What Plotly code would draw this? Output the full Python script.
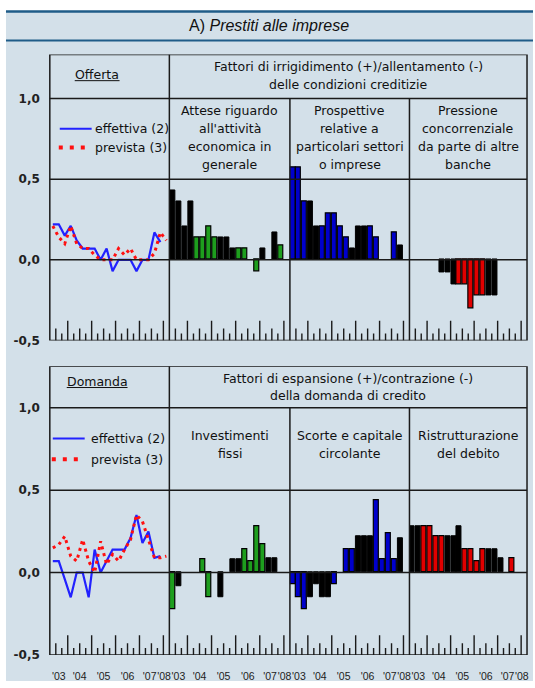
import plotly.graph_objects as go

# ---------------- data ----------------
quarters = ["2003T2", "2003T3", "2003T4",
            "2004T1", "2004T2", "2004T3", "2004T4",
            "2005T1", "2005T2", "2005T3", "2005T4",
            "2006T1", "2006T2", "2006T3", "2006T4",
            "2007T1", "2007T2", "2007T3", "2007T4",
            "2008T1"]
year_labels = ["'03", "'04", "'05", "'06", "'07", "'08"]
y_tick_vals = [-0.5, 0.0, 0.5, 1.0]
y_tick_text = ["-0,5", "0,0", "0,5", "1,0"]

# Offerta (lines)
offerta_effettiva = [0.22, 0.22, 0.15, 0.21, 0.12, 0.07, 0.07, 0.07, 0.0, 0.07,
                     -0.07, 0.0, 0.0, 0.0, -0.07, 0.0, 0.0, 0.17, 0.11, None]
offerta_prevista = [0.21, 0.14, 0.10, 0.21, 0.10, 0.07, 0.07, 0.03, 0.0, 0.0,
                    0.0, 0.07, 0.03, 0.07, 0.0, 0.0, 0.0, 0.04, 0.17, 0.12]

# Offerta factors (black bars / coloured bars)
attese_nere = [0.43, 0.36, 0.21, 0.36, None, None, None, None, 0.14, 0.14,
               0.07, None, None, None, None, 0.07, None, 0.17, None, None]
attese_col = [None, None, None, None, 0.14, 0.14, 0.21, 0.14, None, None,
              None, 0.07, 0.07, None, -0.07, None, None, None, 0.09, None]
prospettive_nere = [None, None, None, 0.36, 0.21, None, None, None, None, None,
                    0.07, 0.21, 0.21, None, None, None, None, None, 0.09, None]
prospettive_col = [0.57, 0.57, 0.36, None, None, 0.21, 0.29, 0.29, 0.21, 0.14,
                   None, None, None, 0.21, 0.14, None, None, 0.17, None, None]
pressione_nere = [None, None, None, None, None, -0.08, -0.08, -0.15, None, None,
                  None, None, None, -0.22, -0.22, None, None, None, None, None]
pressione_col = [None, None, None, None, None, None, None, None, -0.15, -0.15,
                 -0.30, -0.22, -0.22, None, None, None, None, None, None, None]

# Domanda (lines)
domanda_effettiva = [0.07, 0.07, -0.04, -0.15, 0.0, 0.0, -0.15, 0.14, 0.0, 0.07,
                     0.14, 0.14, 0.14, 0.21, 0.35, 0.18, 0.25, 0.09, 0.10, None]
domanda_prevista = [0.15, 0.17, 0.22, 0.10, 0.07, 0.20, 0.07, 0.0, 0.19, 0.05,
                    0.11, 0.07, 0.14, 0.20, 0.35, 0.31, 0.20, 0.09, 0.09, 0.10]

# Domanda factors
investimenti_nere = [None, -0.08, None, None, None, None, None, None, -0.15, None,
                     0.08, 0.08, None, None, None, None, 0.09, 0.09, None, None]
investimenti_col = [-0.22, None, None, None, None, 0.08, -0.15, None, None, None,
                    None, None, 0.14, 0.07, 0.28, 0.17, None, None, None, None]
scorte_nere = [None, None, None, -0.15, -0.07, -0.15, -0.15, None, None, None,
               None, 0.22, 0.22, 0.22, None, None, None, None, 0.21, None]
scorte_col = [-0.07, -0.15, -0.22, None, None, None, None, -0.07, None, 0.14,
              0.14, None, None, None, 0.44, 0.08, 0.24, 0.08, None, None]
ristrutt_nere = [0.28, 0.28, None, None, None, None, 0.22, 0.22, 0.28, None,
                 None, None, None, 0.14, 0.14, 0.09, None, None, None, None]
ristrutt_col = [None, None, 0.28, 0.28, 0.22, 0.22, None, None, None, 0.14,
                0.14, 0.07, 0.14, None, None, None, None, 0.09, None, None]

# ---------------- layout helpers ----------------
W, H = 535, 688
BG = "#d3e0e9"
NAVY = "#1f5c88"
LINE = "#1a1a1a"
GREEN, BLUE, RED = "#1e9e1e", "#0000cc", "#e00000"
FONT = "DejaVu Sans"


def fx(px):
    return px / W


def fy(py):
    return 1 - py / H


x = list(range(len(quarters)))
years = []
for q in quarters:
    if q[:4] not in years:
        years.append(q[:4])
year_pos = [sum(i for i, q in enumerate(quarters) if q[:4] == yv) /
            sum(1 for q in quarters if q[:4] == yv) for yv in years]
year_pos[-2] -= 0.3   # labels nudged as in the original layout
year_pos[-1] -= 0.4

edges = [50, 170, 291, 411, 529]
sections = [
    dict(top=55, zero=262.5, unit=163.0),
    dict(top=370, zero=578.5, unit=166.5),
]

fig = go.Figure()
layout = dict(width=W, height=H, margin=dict(l=0, r=0, t=0, b=0),
              paper_bgcolor="white", plot_bgcolor="rgba(0,0,0,0)",
              showlegend=False, barmode="overlay", bargap=0)
shapes = []
annotations = []

# background + title band
shapes.append(dict(type="rect", xref="paper", yref="paper", x0=fx(6), x1=1,
                   y0=0, y1=fy(11), fillcolor=BG, line=dict(width=0), layer="below"))
shapes.append(dict(type="line", xref="paper", yref="paper", x0=fx(6), x1=1,
                   y0=fy(11.5), y1=fy(11.5), line=dict(color=NAVY, width=2.5)))
shapes.append(dict(type="line", xref="paper", yref="paper", x0=fx(6), x1=1,
                   y0=fy(41), y1=fy(41), line=dict(color=NAVY, width=2)))
annotations.append(dict(xref="paper", yref="paper", x=fx(270), y=fy(26),
                        xanchor="center", yanchor="middle",
                        text="A) <i>Prestiti alle imprese</i>", showarrow=False,
                        font=dict(family="Liberation Sans", size=16, color="#111")))

panel_data = [
    [("lines", offerta_effettiva, offerta_prevista),
     ("bars", attese_nere, attese_col, GREEN),
     ("bars", prospettive_nere, prospettive_col, BLUE),
     ("bars", pressione_nere, pressione_col, RED)],
    [("lines", domanda_effettiva, domanda_prevista),
     ("bars", investimenti_nere, investimenti_col, GREEN),
     ("bars", scorte_nere, scorte_col, BLUE),
     ("bars", ristrutt_nere, ristrutt_col, RED)],
]

for s, sec in enumerate(sections):
    top_val = (sec["zero"] - sec["top"]) / sec["unit"]
    bot_px = sec["zero"] + 0.5 * sec["unit"]
    n0 = s * 4 + 1
    yref0 = "y" if n0 == 1 else f"y{n0}"
    for p in range(4):
        n = s * 4 + p + 1
        xname = "x" if n == 1 else f"x{n}"
        yname = "y" if n == 1 else f"y{n}"
        xa = dict(domain=[fx(edges[p]), fx(edges[p + 1])], range=[-0.5, len(x) - 0.5],
                  anchor=yname, showgrid=False, zeroline=False, showline=False,
                  ticks="", fixedrange=True)
        if s == 1:
            xa.update(tickvals=year_pos, ticktext=year_labels, ticklabelstandoff=13,
                      tickangle=0,
                      tickfont=dict(family="Liberation Sans", size=10.5, color="#222"))
        else:
            xa.update(showticklabels=False)
        ya = dict(domain=[fy(bot_px), fy(sec["top"])], range=[-0.5, top_val],
                  anchor=xname, showgrid=False, zeroline=False, showline=False,
                  ticks="", fixedrange=True)
        if p == 0:
            ya.update(tickvals=y_tick_vals, ticktext=y_tick_text, ticklabelstandoff=9,
                      tickfont=dict(family=FONT, size=12, color="#222", weight="bold"))
        else:
            ya.update(showticklabels=False)
        layout["xaxis" if n == 1 else f"xaxis{n}"] = xa
        layout["yaxis" if n == 1 else f"yaxis{n}"] = ya

        pd_ = panel_data[s][p]
        if pd_[0] == "lines":
            fig.add_trace(go.Scatter(x=x, y=pd_[1], mode="lines", xaxis=xname, yaxis=yname,
                                     line=dict(color="#2222ff", width=2.2), connectgaps=False,
                                     name="effettiva (2)"))
            fig.add_trace(go.Scatter(x=x, y=pd_[2], mode="lines", xaxis=xname, yaxis=yname,
                                     line=dict(color="#ff1010", width=3, dash="3px,4px"),
                                     name="prevista (3)"))
        else:
            fig.add_trace(go.Bar(x=x, y=pd_[1], xaxis=xname, yaxis=yname, width=0.84,
                                 marker=dict(color="black", line=dict(color="black", width=1))))
            fig.add_trace(go.Bar(x=x, y=pd_[2], xaxis=xname, yaxis=yname, width=0.84,
                                 marker=dict(color=pd_[3], line=dict(color="black", width=1.2))))

        # quarter / year tick marks along the bottom
        for i in range(len(quarters) - 1):
            qn = quarters[i + 1][-1]
            hpx = 20 if qn == "1" else (12 if qn == "3" else 7)
            shapes.append(dict(type="line", xref=xname, yref=yname, x0=i + 0.5, x1=i + 0.5,
                               y0=-0.5, y1=-0.5 + hpx / sec["unit"],
                               line=dict(color=LINE, width=1.4)))

    # box lines of the section
    shapes.append(dict(type="rect", xref="paper", yref=yref0, x0=fx(50), x1=fx(529),
                       y0=-0.5, y1=top_val, line=dict(color=LINE, width=1.5)))
    for lv in [1.0, 0.5, 0.0]:
        shapes.append(dict(type="line", xref="paper", yref=yref0, x0=fx(50), x1=fx(529),
                           y0=lv, y1=lv, line=dict(color=LINE, width=1.5)))
    shapes.append(dict(type="line", xref="paper", yref=yref0, x0=fx(170), x1=fx(170),
                       y0=-0.5, y1=top_val, line=dict(color=LINE, width=1.5)))
    for ex in [291, 411]:
        shapes.append(dict(type="line", xref="paper", yref=yref0, x0=fx(ex), x1=fx(ex),
                           y0=-0.5, y1=1.0, line=dict(color=LINE, width=1.5)))


def txt(xp, yp, s, size=12.5, xanchor="center"):
    annotations.append(dict(xref="paper", yref="paper", x=fx(xp), y=fy(yp), text=s,
                            showarrow=False, xanchor=xanchor, yanchor="middle",
                            font=dict(family=FONT, size=size, color="#111")))


def underline(x0, x1, yp):
    shapes.append(dict(type="line", xref="paper", yref="paper", x0=fx(x0), x1=fx(x1),
                       y0=fy(yp), y1=fy(yp), line=dict(color="#111", width=1)))


# ---- top section texts ----
txt(97.5, 75, "Offerta")
underline(75, 120, 81.5)
txt(349.5, 67, "Fattori di irrigidimento (+)/allentamento (-)")
txt(349.5, 85, "delle condizioni creditizie")
for cx, lines in [(230.5, ["Attese riguardo", "all'attività", "economica in", "generale"]),
                  (351, ["Prospettive", "relative a", "particolari settori", "o imprese"]),
                  (470, ["Pressione", "concorrenziale", "da parte di altre", "banche"])]:
    for k, ln in enumerate(lines):
        txt(cx, 112 + 18 * k, ln)
shapes.append(dict(type="line", xref="paper", yref="paper", x0=fx(60), x1=fx(92),
                   y0=fy(130), y1=fy(130), line=dict(color="#2222ff", width=2)))
shapes.append(dict(type="line", xref="paper", yref="paper", x0=fx(59), x1=fx(87),
                   y0=fy(149), y1=fy(149), line=dict(color="#ff1010", width=4, dash="4px,7px")))
txt(93, 130, "effettiva (2)", xanchor="left")
txt(93, 149, "prevista (3)", xanchor="left")

# ---- bottom section texts ----
txt(97.5, 385, "Domanda")
underline(67, 128, 391.5)
txt(349.5, 382, "Fattori di espansione (+)/contrazione (-)")
txt(349.5, 400, "della domanda di credito")
for cx, lines in [(230.5, ["Investimenti", "fissi"]),
                  (351, ["Scorte e capitale", "circolante"]),
                  (470, ["Ristrutturazione", "del debito"])]:
    for k, ln in enumerate(lines):
        txt(cx, 440 + 18 * k, ln)
shapes.append(dict(type="line", xref="paper", yref="paper", x0=fx(53), x1=fx(85),
                   y0=fy(443), y1=fy(443), line=dict(color="#2222ff", width=2)))
shapes.append(dict(type="line", xref="paper", yref="paper", x0=fx(52), x1=fx(80),
                   y0=fy(464), y1=fy(464), line=dict(color="#ff1010", width=4, dash="4px,7px")))
txt(89, 443, "effettiva (2)", xanchor="left")
txt(89, 464, "prevista (3)", xanchor="left")

layout["shapes"] = shapes
layout["annotations"] = annotations
fig.update_layout(**layout)
fig.write_html("out.html", config={"displayModeBar": False},
               post_script="document.body.style.margin='0';"
                           "document.body.style.overflow='hidden';")
